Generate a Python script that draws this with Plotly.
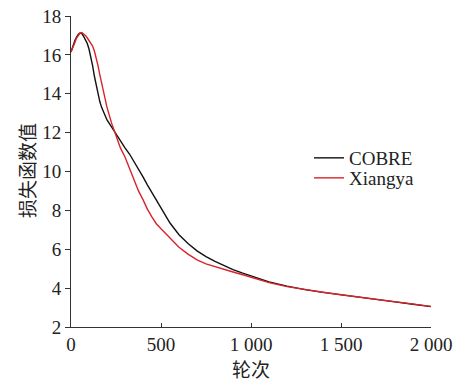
import plotly.graph_objects as go

epochs = [0, 10, 20, 30, 40, 50, 60, 70, 80, 90, 100, 110, 120, 130, 140, 150, 160, 170, 180, 190,
          200, 225, 250, 275, 300, 325, 350, 375, 400, 425, 450, 475, 500, 550, 600, 650, 700, 750,
          800, 850, 900, 950, 1000, 1100, 1200, 1300, 1400, 1500, 1600, 1700, 1800, 1900, 2000]

cobre_loss = [16.15, 16.45, 16.7, 16.9, 17.05, 17.12, 17.1, 16.95, 16.8, 16.6, 16.3, 15.95, 15.45,
              14.9, 14.4, 13.95, 13.6, 13.3, 13.05, 12.85, 12.65, 12.3, 11.92, 11.57, 11.22, 10.9,
              10.52, 10.15, 9.72, 9.3, 8.9, 8.5, 8.1, 7.35, 6.75, 6.3, 5.92, 5.62, 5.38, 5.15, 4.95,
              4.78, 4.62, 4.32, 4.1, 3.92, 3.78, 3.65, 3.53, 3.41, 3.29, 3.17, 3.05]

xiangya_loss = [16.15, 16.35, 16.6, 16.85, 17.0, 17.12, 17.15, 17.08, 17.0, 16.88, 16.75, 16.62, 16.45,
                16.2, 15.85, 15.45, 14.98, 14.52, 14.07, 13.67, 13.3, 12.5, 11.85, 11.2, 10.75, 10.15,
                9.5, 9.0, 8.55, 8.05, 7.65, 7.3, 7.05, 6.55, 6.1, 5.75, 5.45, 5.25, 5.1, 4.97, 4.83,
                4.7, 4.57, 4.28, 4.08, 3.92, 3.79, 3.66, 3.54, 3.42, 3.3, 3.18, 3.06]

x_tick_vals = [0, 500, 1000, 1500, 2000]
x_tick_text = ["0", "500", "1 000", "1 500", "2 000"]
y_tick_vals = [2, 4, 6, 8, 10, 12, 14, 16, 18]

serif = "Liberation Serif"
cjk = "Noto Sans CJK SC"
txt = "#222222"

W, H = 460, 381
ML, MR, MT, MB = 71, 29, 16, 54
PW, PH = W - ML - MR, H - MT - MB


def px_x(page_x):
    return (page_x - ML) / PW


def px_y(page_y):
    return (H - MB - page_y) / PH


fig = go.Figure()
fig.add_trace(go.Scatter(x=epochs, y=cobre_loss, mode="lines", name="COBRE", legend="legend",
                         line=dict(color="#111111", width=1.4)))
fig.add_trace(go.Scatter(x=epochs, y=xiangya_loss, mode="lines", name="Xiangya", legend="legend2",
                         line=dict(color="#d9232a", width=1.4)))

leg_common = dict(xanchor="left", yanchor="middle", bgcolor="rgba(0,0,0,0)",
                  font=dict(family=serif, size=19, color=txt), itemwidth=30)

fig.update_layout(
    width=W, height=H,
    margin=dict(l=ML, r=MR, t=MT, b=MB, autoexpand=False),
    paper_bgcolor="white", plot_bgcolor="white",
    font=dict(family=serif, size=19, color=txt),
    showlegend=True,
    legend=dict(x=px_x(309), y=px_y(158), **leg_common),
    legend2=dict(x=px_x(309), y=px_y(178), **leg_common),
    xaxis=dict(range=[0, 2000], tickvals=x_tick_vals, ticktext=x_tick_text, automargin=False,
               showgrid=False, zeroline=False, showline=True, linecolor="#333333", linewidth=1,
               ticks="inside", ticklen=4, tickcolor="#333333", ticklabeloverflow="allow",
               ticklabelstandoff=0,
               tickfont=dict(family=serif, size=19, color=txt)),
    yaxis=dict(range=[2, 18], tickvals=y_tick_vals, automargin=False,
               showgrid=False, zeroline=False, showline=True, linecolor="#333333", linewidth=1,
               ticks="outside", ticklen=5, tickcolor="#333333", ticklabeloverflow="allow",
               tickfont=dict(family=serif, size=19, color=txt)),
    annotations=[
        dict(text="轮次", xref="paper", yref="paper", x=px_x(251), y=px_y(368),
             xanchor="center", yanchor="middle", showarrow=False,
             font=dict(family=cjk, size=19, color=txt)),
        dict(text="损失函数值", xref="paper", yref="paper", x=px_x(26), y=px_y(171),
             xanchor="center", yanchor="middle", showarrow=False, textangle=-90,
             font=dict(family=cjk, size=19, color=txt)),
    ],
)

fig.write_html("out.html", config={"displayModeBar": False},
               post_script="document.body.style.margin='0px';")
